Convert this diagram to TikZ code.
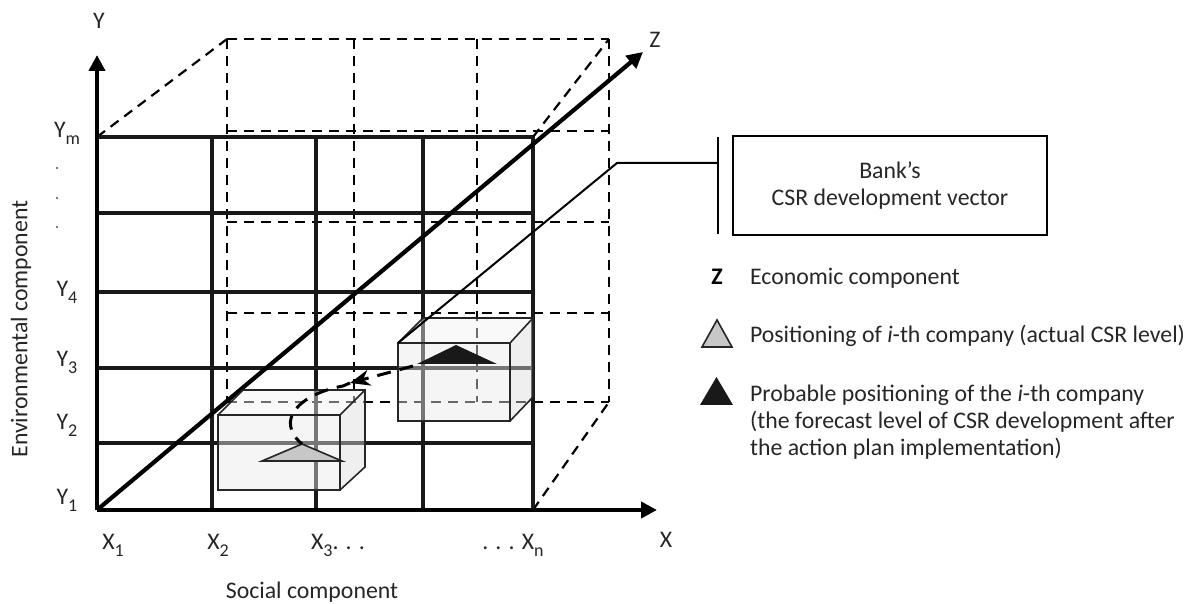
\documentclass[tikz,border=0pt]{standalone}
\usepackage{fontspec}
\setmainfont{Carlito}
\usetikzlibrary{arrows.meta, positioning}

\newcommand{\lowidx}[1]{\raisebox{-0.6ex}{\small #1}}

\begin{document}
\begin{tikzpicture}[x=0.5pt, y=-0.5pt, >={Triangle[length=8pt,width=8pt]},
        font=\fontsize{11.9}{13.5}\selectfont, text=black!85]

        \tikzstyle{grid line}=[line width=1.8pt, black!90]
        \tikzstyle{axis line}=[line width=2.4pt, ->]
        \tikzstyle{back line}=[line width=1.1pt, dash pattern=on 5pt off 3.5pt]
        \tikzstyle{crate}=[fill opacity=0.45]
        \tikzstyle{crate edge}=[draw=black!85, line width=0.8pt]
        \tikzstyle{trend}=[line width=1.5pt, dash pattern=on 7pt off 4.5pt]

        \useasboundingbox (0,0) rectangle (1185,604);

        % back frame
        \foreach \y in {39,131,222,313,402}
            \draw[back line] (227,\y) -- (609,\y);
        \foreach \x in {227,354,477,609}
            \draw[back line] (\x,39) -- (\x,402);

        \coordinate (O) at (97,510);
        \coordinate (ym) at (97,137);
        \coordinate (xn) at (533,510);
        \coordinate (tr) at (533,137);
        \draw[back line] (ym) -- (227,39);
        \draw[back line] (tr) -- (609,39);
        \draw[back line] (xn) -- (609,402);

        % front grid
        \foreach \y in {137,213,292,368,443}
            \draw[grid line] (97,\y) -- (533,\y);
        \foreach \x in {212,316,423,533}
            \draw[grid line] (\x,137) -- (\x,510);

        % axes
        \draw[axis line] (O) -- (97,55);
        \draw[axis line] (O) -- (657,510);
        \draw[axis line, line width=2.1pt] (O) -- (643,52);

        % boxes
        \coordinate (lbox) at (218,415);
        \fill[crate, fill=black!5] (lbox) -- (243,390) -- (365,390) -- (340,415) -- cycle;
        \fill[crate, fill=black!14] (340,415) -- (365,390) -- (365,467) -- (340,490) -- cycle;
        \fill[crate, fill=black!9] (lbox) rectangle (340,490);
        \draw[crate edge] (lbox) -- (243,390) -- (365,390) -- (365,467) -- (340,490)
            (340,415) -- (365,390) (lbox) rectangle (340,490);

        \coordinate (rbox) at (398,343);
        \fill[crate, fill=black!5] (rbox) -- (423,318) -- (533,318) -- (510,343) -- cycle;
        \fill[crate, fill=black!14] (510,343) -- (533,318) -- (533,397) -- (510,421) -- cycle;
        \fill[crate, fill=black!9] (rbox) rectangle (510,421);
        \draw[crate edge] (rbox) -- (423,318) -- (533,318) -- (533,397) -- (510,421)
            (510,343) -- (533,318) (rbox) rectangle (510,421);

        % development vector
        \coordinate (vbend) at (617,163);
        \coordinate (vbar) at (718,163);
        \draw[line width=1pt] (rbox) -- (vbend) -- (vbar);
        \draw[line width=1pt] (718,137) -- (718,234);

        % company positions
        \coordinate (gry) at (302,444);
        \coordinate (blk) at (413,366);
        \coordinate (turn) at (350,383);
        \filldraw[fill=black!22, draw=black!85, line width=0.8pt] (262,461) -- (gry) -- (342,461) -- cycle;
        \fill[black!90] (417,364) -- (456,345) -- (497,364) -- cycle;
        \draw[trend, -{Stealth[length=10pt,width=8pt]}] (blk) -- (turn);
        \draw[trend] (turn) -- (343,386) .. controls (300,394) and (274,420) .. (gry);

        % axis labels
        \node (ylab) at (99,21) {Y};
        \node (zlab) at (655,40) {Z};
        \node[anchor=base] (xlab) at (666,547) {X};
        \node[rotate=90] (env) at (21,329) {Environmental component};
        \node[anchor=base] (soc) at (312,598) {Social component};

        \node[anchor=base] (y1) at (67,505) {Y\lowidx{1}};
        \node[anchor=base] (y2) at (67,430) {Y\lowidx{2}};
        \node[anchor=base] (y3) at (67,367) {Y\lowidx{3}};
        \node[anchor=base] (y4) at (67,297) {Y\lowidx{4}};
        \node[anchor=base] (yn) at (67,138) {Y\lowidx{m}};
        \foreach \y in {168,198,227}
            \fill[black!70] (57,\y) circle (0.6pt);

        \node[anchor=base] (x1) at (113,550) {X\lowidx{1}};
        \node[anchor=base] (x2) at (218,550) {X\lowidx{2}};
        \node[anchor=base] (x3) at (338,550) {X\lowidx{3}. . .};
        \node[anchor=base] (xm) at (513,550) {. . . X\lowidx{n}};

        % legend
        \node[draw, line width=1.2pt, minimum width=157pt, minimum height=49.5pt, align=center]
            (vec) at (890,185.5) {Bank’s\\CSR development vector};

        \node[anchor=base, text=black] (zkey) at (717,285) {\textbf{Z}};
        \node[anchor=base west] (econ) at (743,285) {Economic component};

        \filldraw[fill=black!22, draw=black!85, line width=0.8pt] (702,347) -- (717,320) -- (732,347) -- cycle;
        \node[anchor=base west] (actual) at (743,343) {Positioning of \textit{i}-th company (actual CSR level)};

        \fill[black!90] (700,405) -- (716.5,377) -- (733,405) -- cycle;
        \node[anchor=base west] (prob) at (743,402) {Probable positioning of the \textit{i}-th company};
        \node[anchor=base west] (prob2) at (743,429) {(the forecast level of CSR development after};
        \node[anchor=base west] (prob3) at (743,456) {the action plan implementation)};

\end{tikzpicture}
\end{document}
